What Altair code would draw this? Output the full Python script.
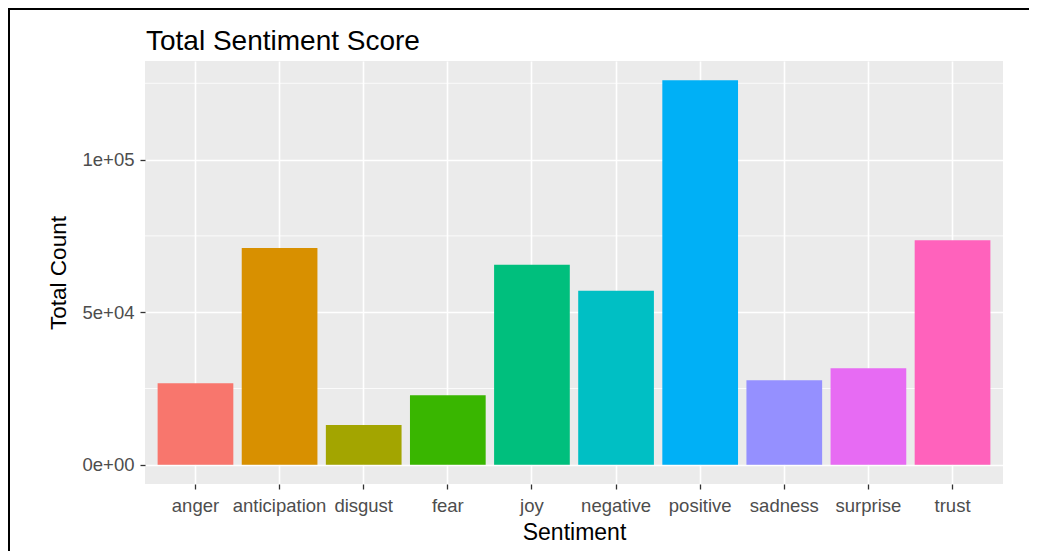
import altair as alt
import pandas as pd

# ---- data ----
sentiments = ["anger", "anticipation", "disgust", "fear", "joy",
              "negative", "positive", "sadness", "surprise", "trust"]
totals = [26700, 71000, 13000, 22800, 65500,
          57000, 126000, 27700, 31600, 73600]
colors = ["#F8766D", "#D89000", "#A3A500", "#39B600", "#00BF7D",
          "#00BFC4", "#00B0F6", "#9590FF", "#E76BF3", "#FF62BC"]
major_ticks = [0, 50000, 100000]
minor_ticks = [25000, 75000, 125000]
title_text = "Total Sentiment Score"

df = pd.DataFrame({"sentiment": sentiments, "total": totals})
minor_df = pd.DataFrame({"total": minor_ticks})

W, H = 858, 423
FONT = "Liberation Sans"
vmax = max(totals)
ydom = [-0.05 * vmax, 1.05 * vmax]

yscale = alt.Scale(domain=ydom, nice=False, zero=False)
xscale = alt.Scale(domain=sentiments, paddingInner=0.1, paddingOuter=0.15)

yaxis = alt.Axis(title="Total Count", values=major_ticks,
                 labelExpr="replace(format(datum.value, '.0e'), 'e+', 'e+0')",
                 grid=True, gridColor="white", gridWidth=1.6,
                 domain=False, tickColor="#333333", tickWidth=1.3,
                 tickSize=5, labelColor="#4D4D4D", labelFontSize=18.5,
                 labelFont=FONT, labelPadding=6,
                 titleFont=FONT, titleFontSize=22.5,
                 titleFontWeight="normal", titleColor="black",
                 titleAngle=270, titleX=-87, titleY=H / 2,
                 titleBaseline="middle", titleAlign="center")

minor = alt.Chart(minor_df).mark_rule(color="white", strokeWidth=0.8).encode(
    y=alt.Y("total:Q", scale=yscale, axis=yaxis),
    x=alt.value(0), x2=alt.value(W),
)

bars = alt.Chart(df).mark_bar().encode(
    x=alt.X("sentiment:N", scale=xscale, sort=sentiments,
            axis=alt.Axis(title="Sentiment", labelAngle=0, grid=True,
                          gridColor="white", gridWidth=1.6, bandPosition=0.5,
                          domain=False, tickColor="#333333", tickWidth=1.3,
                          tickSize=5, labelColor="#4D4D4D", labelFontSize=18.5,
                          labelFont=FONT, labelBaseline="alphabetic",
                          labelPadding=22, labelOverlap=False,
                          titleFont=FONT, titleFontSize=23,
                          titleFontWeight="normal", titleColor="black",
                          titleX=W / 2, titleY=55, titleBaseline="alphabetic",
                          titleAlign="center")),
    y=alt.Y("total:Q", scale=yscale, axis=yaxis),
    y2=alt.datum(0),
    color=alt.Color("sentiment:N", scale=alt.Scale(domain=sentiments, range=colors),
                    legend=None),
)

one_df = pd.DataFrame({"k": [0]})
title_mark = alt.Chart(one_df).mark_text(
    font=FONT, fontSize=28, color="black", align="left", baseline="alphabetic"
).encode(x=alt.value(1), y=alt.value(-11), text=alt.value(title_text))

frame_left = alt.Chart(one_df).mark_rule(color="black", strokeWidth=2).encode(
    x=alt.value(-136), y=alt.value(-52), y2=alt.value(H + 67))
frame_top = alt.Chart(one_df).mark_rule(color="black", strokeWidth=2).encode(
    x=alt.value(-137), x2=alt.value(W + 26), y=alt.value(-52))

chart = alt.layer(minor, bars, title_mark, frame_left, frame_top).properties(
    width=W, height=H,
    autosize=alt.AutoSizeParams(type="none"),
    padding={"left": 137, "top": 53, "right": 26, "bottom": 67},
).configure(background="white").configure_view(fill="#EBEBEB", stroke=None)

chart.save("out.html", embed_options={"renderer": "svg", "actions": False})
